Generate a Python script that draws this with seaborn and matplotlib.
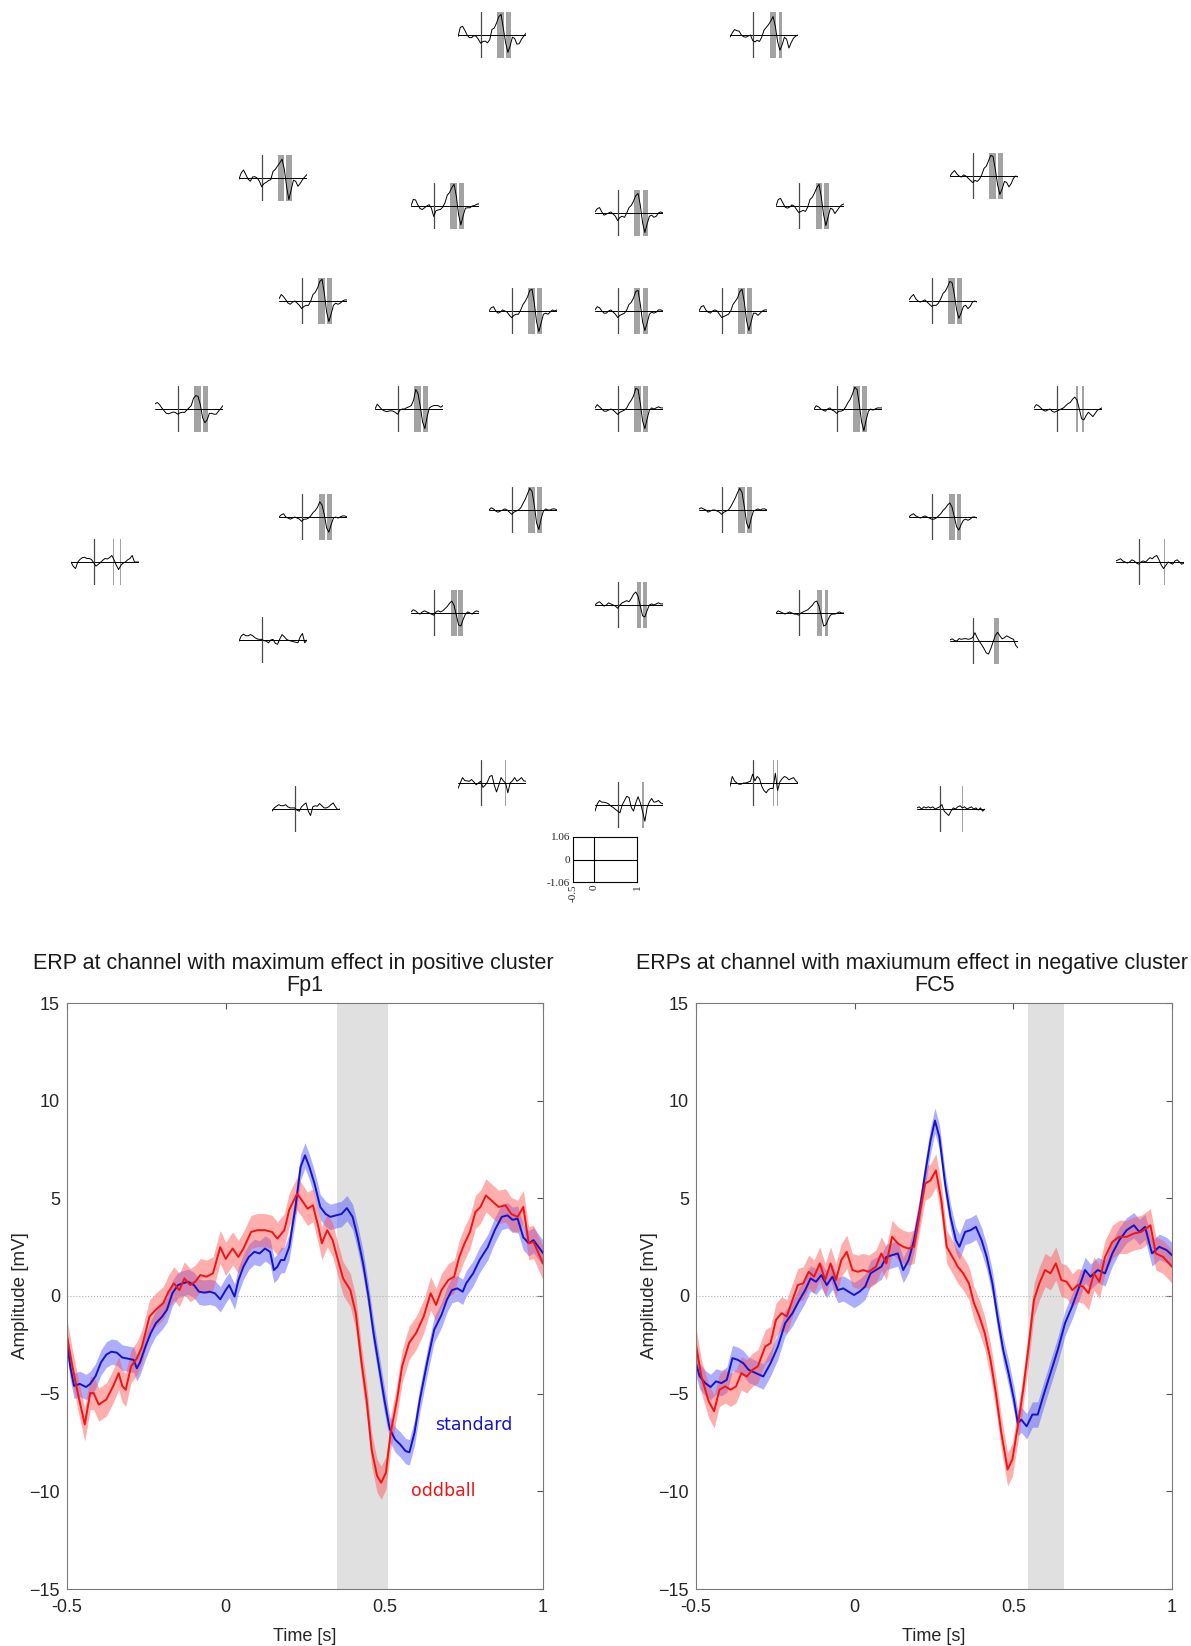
import matplotlib
matplotlib.use('Agg')
import matplotlib.pyplot as plt
import seaborn as sns
import numpy as np

FIG_W, FIG_H = 1191, 1646

# ---------------- big ERP panels ----------------
FP1_STD_T = [-0.5, -0.49, -0.478, -0.46, -0.44, -0.427, -0.41, -0.393, -0.376, -0.36, -0.343, -0.326, -0.31,
             -0.29, -0.28, -0.27, -0.253, -0.236, -0.22, -0.2, -0.185, -0.168, -0.15, -0.135, -0.118, -0.1,
             -0.084, -0.067, -0.05, -0.034, -0.017, 0.0, 0.011, 0.028, 0.04, 0.056, 0.073, 0.09, 0.107, 0.124,
             0.14, 0.152, 0.163, 0.174, 0.185, 0.2, 0.22, 0.236, 0.25, 0.264, 0.28, 0.298, 0.315, 0.33, 0.348,
             0.365, 0.382, 0.4, 0.416, 0.433, 0.45, 0.466, 0.483, 0.5, 0.517, 0.534, 0.55, 0.567, 0.579, 0.595,
             0.612, 0.635, 0.657, 0.68, 0.697, 0.713, 0.73, 0.747, 0.758, 0.78, 0.8, 0.826, 0.848, 0.87, 0.888,
             0.904, 0.92, 0.938, 0.955, 0.97, 1.0]
FP1_STD_V = [-2.33, -3.6, -4.6, -4.5, -4.66, -4.5, -4.1, -3.4, -3.0, -2.85, -2.9, -3.15, -3.2, -3.27, -3.7,
             -3.4, -2.6, -1.9, -1.4, -1.05, -0.7, 0.14, 0.56, 0.65, 0.73, 0.56, 0.22, 0.17, 0.22, 0.14, -0.17,
             0.3, 0.56, -0.03, 0.8, 1.5, 2.0, 2.26, 2.18, 2.43, 2.26, 1.33, 1.5, 1.84, 1.84, 2.5, 4.56, 6.6, 7.2,
             6.6, 5.75, 4.56, 4.2, 4.05, 4.13, 4.2, 4.5, 4.05, 3.0, 1.67, -0.03, -1.9, -3.6, -5.3, -6.8, -7.35,
             -7.6, -7.94, -8.0, -7.0, -5.3, -3.4, -1.73, -0.97, -0.2, 0.3, 0.39, 0.22, 0.65, 1.16, 1.84, 2.5,
             3.37, 4.05, 4.13, 3.9, 3.96, 3.0, 2.7, 2.86, 2.2]
FP1_ODD_T = [-0.5, -0.483, -0.466, -0.444, -0.427, -0.416, -0.4, -0.376, -0.354, -0.337, -0.326, -0.315,
             -0.298, -0.28, -0.264, -0.24, -0.22, -0.197, -0.18, -0.163, -0.146, -0.13, -0.112, -0.096, -0.08,
             -0.06, -0.04, -0.017, 0.0, 0.022, 0.04, 0.056, 0.08, 0.1, 0.124, 0.146, 0.163, 0.185, 0.2, 0.225,
             0.24, 0.258, 0.275, 0.292, 0.303, 0.32, 0.337, 0.354, 0.37, 0.393, 0.41, 0.427, 0.444, 0.46, 0.477,
             0.49, 0.505, 0.52, 0.54, 0.556, 0.578, 0.6, 0.624, 0.646, 0.663, 0.68, 0.702, 0.72, 0.736, 0.753,
             0.77, 0.787, 0.803, 0.82, 0.837, 0.86, 0.882, 0.9, 0.92, 0.938, 0.955, 0.97, 1.0]
FP1_ODD_V = [-2.07, -3.6, -4.97, -6.58, -4.97, -4.97, -5.56, -5.3, -4.6, -3.95, -4.6, -4.8, -3.6, -3.2, -2.6,
             -1.05, -0.7, -0.37, 0.22, 0.65, 0.3, 0.9, 0.56, 0.73, 1.07, 0.99, 1.16, 2.5, 1.9, 2.43, 2.0, 2.43,
             3.28, 3.37, 3.37, 3.28, 2.94, 3.37, 4.4, 5.24, 4.9, 4.47, 4.64, 3.54, 2.7, 3.37, 2.86, 1.84, 0.9,
             0.3, -0.88, -3.27, -5.3, -7.86, -9.2, -9.56, -9.05, -7.0, -5.3, -3.6, -2.4, -1.9, -1.05, 0.14,
             -0.46, 0.3, 0.82, 0.99, 2.0, 2.7, 3.28, 4.3, 4.56, 5.15, 4.9, 4.56, 4.64, 4.2, 4.05, 4.56, 2.7,
             2.77, 1.67]

FC5_STD_T = [-0.5, -0.489, -0.471, -0.454, -0.437, -0.42, -0.403, -0.385, -0.368, -0.351, -0.334, -0.311,
             -0.288, -0.265, -0.242, -0.219, -0.196, -0.174, -0.156, -0.139, -0.122, -0.105, -0.088, -0.07,
             -0.053, -0.036, -0.019, -0.002, 0.015, 0.033, 0.05, 0.067, 0.084, 0.1, 0.118, 0.136, 0.153, 0.17,
             0.187, 0.205, 0.222, 0.239, 0.253, 0.267, 0.285, 0.302, 0.319, 0.33, 0.348, 0.365, 0.382, 0.4,
             0.416, 0.434, 0.45, 0.468, 0.485, 0.502, 0.514, 0.525, 0.542, 0.56, 0.577, 0.594, 0.617, 0.64,
             0.663, 0.685, 0.708, 0.726, 0.743, 0.766, 0.789, 0.812, 0.834, 0.857, 0.88, 0.897, 0.915, 0.937,
             0.96, 0.983, 1.0]
FC5_STD_V = [-3.44, -4.1, -4.46, -4.66, -4.37, -4.46, -4.29, -3.18, -3.27, -3.44, -3.78, -3.95, -4.12, -3.44,
             -2.59, -1.39, -0.88, -0.2, 0.3, 0.9, 0.73, 1.07, 0.56, 0.99, 0.3, 0.39, 0.22, 0.05, 0.22, 0.48,
             1.16, 1.33, 1.5, 2.0, 2.09, 2.18, 1.33, 1.84, 2.86, 4.39, 6.26, 7.96, 8.98, 8.13, 5.75, 4.05, 2.86,
             2.52, 3.28, 3.37, 3.54, 2.86, 2.0, 0.65, -1.05, -2.76, -3.95, -5.3, -6.5, -6.33, -6.67, -6.07,
             -6.07, -5.14, -3.95, -2.76, -1.39, -0.54, 0.48, 1.33, 0.99, 1.33, 1.16, 2.18, 2.86, 3.37, 3.62,
             3.28, 3.54, 2.18, 2.52, 2.35, 2.09]
FC5_ODD_T = [-0.5, -0.483, -0.46, -0.443, -0.426, -0.408, -0.391, -0.374, -0.357, -0.34, -0.322, -0.305,
             -0.282, -0.265, -0.248, -0.23, -0.214, -0.196, -0.179, -0.162, -0.145, -0.128, -0.11, -0.093,
             -0.076, -0.059, -0.042, -0.025, -0.007, 0.01, 0.027, 0.044, 0.067, 0.084, 0.1, 0.118, 0.136, 0.153,
             0.17, 0.187, 0.205, 0.222, 0.239, 0.256, 0.273, 0.29, 0.308, 0.325, 0.342, 0.36, 0.376, 0.393,
             0.41, 0.428, 0.445, 0.462, 0.482, 0.497, 0.514, 0.531, 0.548, 0.565, 0.582, 0.6, 0.617, 0.634,
             0.651, 0.668, 0.686, 0.703, 0.72, 0.737, 0.754, 0.771, 0.789, 0.812, 0.834, 0.857, 0.88, 0.903,
             0.932, 0.949, 0.972, 1.0]
FC5_ODD_V = [-2.5, -4.12, -5.39, -5.9, -4.8, -4.63, -4.8, -4.63, -3.95, -4.12, -3.78, -3.6, -2.59, -2.41,
             -1.22, -0.88, -1.05, -0.2, 0.56, 0.65, 1.24, 0.99, 1.67, 0.82, 1.67, 0.82, 1.84, 2.26, 1.33, 1.24,
             1.33, 1.24, 1.5, 2.18, 1.67, 3.03, 2.69, 2.52, 2.43, 2.52, 4.22, 5.75, 5.92, 6.43, 4.9, 2.52, 2.0,
             1.5, 1.16, 0.65, -0.37, -1.05, -1.9, -3.27, -4.97, -7.0, -8.88, -8.37, -6.67, -4.8, -2.59, -0.2,
             0.65, 1.33, 1.16, 1.67, 0.82, 0.73, 0.3, 0.56, 0.48, 0.14, 1.16, 0.73, 2.0, 2.77, 3.03, 3.03, 3.2,
             3.28, 3.62, 2.18, 2.0, 1.5]

SEM_STD = 0.65
SEM_ODD = 0.85
POS_CLUSTER = (0.35, 0.51)
NEG_CLUSTER = (0.545, 0.66)

# ---------------- small channel traces (difference waves) ----------------
SMALL_T = [-0.5, -0.45, -0.4, -0.35, -0.3, -0.25, -0.2, -0.15, -0.1, -0.05, 0.0, 0.05, 0.1, 0.15, 0.2, 0.25,
           0.3, 0.35, 0.4, 0.45, 0.5, 0.55, 0.6, 0.65, 0.7, 0.75, 0.8, 0.85, 0.9, 0.95, 1.0]

FP1 = [-0.08, 0.35, 0.4, 0.22, 0.0, -0.12, -0.12, -0.03, -0.06, -0.2, -0.38, -0.3, -0.28, -0.36, -0.22, 0.26,
       0.32, 0.55, 0.85, 0.95, 0.3, -0.35, -0.8, -0.5, -0.1, -0.16, -0.42, -0.4, -0.2, -0.05, 0.08]
FP2 = [-0.1, 0.1, 0.25, 0.2, 0.18, 0.0, -0.08, -0.1, -0.05, 0.0, -0.25, -0.32, -0.24, -0.3, -0.1, 0.22, 0.35,
       0.48, 0.65, 0.85, 0.4, -0.3, -0.7, -0.45, -0.1, -0.2, -0.6, -0.35, -0.15, -0.05, 0.0]
F7 = [-0.05, 0.24, 0.37, 0.16, -0.05, -0.15, 0.05, 0.06, 0.0, -0.15, -0.4, -0.26, -0.2, -0.12, -0.08, 0.3, 0.4,
      0.55, 0.7, 0.87, 0.4, -0.4, -1.0, -0.55, -0.1, -0.15, -0.38, -0.25, -0.08, 0.05, 0.16]
F3 = [0.0, 0.3, 0.28, 0.05, -0.12, -0.16, -0.08, 0.0, 0.06, -0.1, -0.48, -0.22, -0.18, -0.16, -0.05, 0.15, 0.5,
      0.62, 0.85, 1.0, 0.45, -0.4, -0.87, -0.45, -0.1, -0.08, -0.08, 0.0, 0.02, 0.08, 0.1]
FZ = [0.05, 0.2, 0.25, 0.05, -0.1, -0.05, 0.0, 0.05, -0.05, -0.15, -0.35, -0.2, -0.15, -0.2, 0.0, 0.25, 0.35,
      0.55, 0.8, 0.9, 0.35, -0.45, -0.9, -0.5, -0.15, -0.1, -0.2, -0.15, 0.0, 0.05, 0.0]
F4 = [0.0, 0.3, 0.35, 0.15, -0.05, -0.1, -0.05, 0.05, 0.0, -0.15, -0.3, -0.25, -0.2, -0.25, -0.05, 0.3, 0.4,
      0.6, 0.85, 1.0, 0.4, -0.4, -0.9, -0.5, -0.1, -0.15, -0.35, -0.2, -0.05, 0.05, 0.1]
F8 = [0.0, 0.15, 0.25, 0.1, 0.0, -0.05, 0.05, 0.0, -0.1, -0.2, -0.3, -0.2, -0.25, -0.15, 0.05, 0.35, 0.45, 0.7,
      0.95, 0.9, 0.3, -0.4, -0.85, -0.6, -0.25, -0.3, -0.5, -0.35, -0.1, 0.0, -0.05]
FC5 = [0.1, 0.3, 0.2, 0.05, -0.1, -0.15, -0.05, 0.0, -0.1, -0.2, -0.35, -0.25, -0.2, -0.2, 0.0, 0.3, 0.4, 0.6,
       0.9, 1.0, 0.35, -0.5, -0.95, -0.6, -0.2, -0.1, -0.15, -0.1, 0.0, 0.05, 0.05]
FC1 = [0.0, 0.15, 0.2, 0.0, -0.1, -0.05, 0.05, 0.0, -0.05, -0.2, -0.3, -0.2, -0.15, -0.15, 0.05, 0.3, 0.45,
       0.65, 0.95, 1.0, 0.35, -0.5, -0.95, -0.55, -0.15, -0.1, -0.15, -0.05, 0.05, 0.0, 0.05]
FCZ = [0.05, 0.2, 0.15, 0.0, -0.1, -0.1, 0.0, 0.05, -0.05, -0.15, -0.3, -0.2, -0.15, -0.1, 0.05, 0.3, 0.4, 0.6,
       0.9, 0.95, 0.3, -0.5, -0.9, -0.55, -0.15, -0.05, -0.1, -0.05, 0.05, 0.05, 0.0]
FC2 = [0.0, 0.2, 0.25, 0.05, -0.05, -0.1, 0.0, 0.05, 0.0, -0.15, -0.3, -0.25, -0.2, -0.15, 0.0, 0.3, 0.45, 0.6,
       0.9, 1.0, 0.4, -0.45, -0.9, -0.5, -0.1, -0.1, -0.2, -0.1, 0.0, 0.05, 0.05]
FC6 = [0.05, 0.2, 0.3, 0.1, 0.0, -0.05, 0.0, 0.05, -0.05, -0.15, -0.25, -0.2, -0.2, -0.1, 0.1, 0.35, 0.45, 0.65,
       0.9, 0.85, 0.3, -0.4, -0.8, -0.55, -0.25, -0.2, -0.35, -0.25, -0.05, 0.0, -0.05]
T7 = [0.24, 0.3, 0.2, 0.05, -0.08, -0.2, -0.22, -0.18, -0.14, -0.16, -0.24, -0.18, -0.15, -0.16, -0.05, 0.05,
      0.16, 0.5, 0.62, 0.58, 0.2, -0.4, -0.63, -0.5, -0.2, -0.2, -0.24, -0.24, -0.1, 0.02, 0.16]
C3 = [0.0, 0.22, 0.1, -0.02, -0.08, -0.12, -0.1, -0.08, -0.1, -0.16, -0.24, -0.05, 0.0, 0.0, 0.06, 0.1, 0.16,
      0.4, 0.9, 0.7, 0.1, -0.6, -0.9, -0.35, 0.05, 0.12, 0.16, 0.16, 0.15, 0.08, 0.16]
CZ = [0.05, 0.2, 0.1, 0.0, -0.1, -0.1, -0.05, 0.0, -0.05, -0.15, -0.25, -0.15, -0.1, -0.05, 0.05, 0.25, 0.4, 0.6,
      0.95, 0.9, 0.25, -0.55, -0.9, -0.45, -0.05, 0.05, 0.0, 0.05, 0.1, 0.05, 0.05]
C4 = [0.0, 0.15, 0.1, 0.0, -0.05, -0.1, 0.0, 0.05, -0.05, -0.1, -0.2, -0.1, -0.1, -0.05, 0.1, 0.3, 0.45, 0.7,
      1.0, 0.9, 0.2, -0.6, -1.0, -0.5, -0.1, 0.0, -0.05, 0.0, 0.05, 0.05, 0.05]
T8 = [0.05, 0.2, 0.15, 0.05, -0.05, -0.1, -0.05, 0.0, -0.1, -0.15, -0.1, -0.05, 0.0, 0.05, 0.15, 0.25, 0.3,
      0.45, 0.55, 0.4, 0.0, -0.45, -0.5, -0.3, -0.15, -0.25, -0.35, -0.2, -0.05, 0.0, 0.05]
CP5 = [0.0, 0.1, 0.15, 0.0, -0.05, -0.1, -0.05, 0.0, -0.05, -0.1, -0.2, -0.1, -0.1, -0.05, 0.05, 0.2, 0.3, 0.45,
       0.7, 0.55, 0.1, -0.5, -0.7, -0.35, -0.05, 0.0, -0.05, 0.0, 0.05, 0.05, 0.0]
CP1 = [0.0, 0.1, 0.05, -0.05, -0.1, -0.05, 0.0, 0.05, 0.0, -0.1, -0.2, -0.1, -0.05, 0.0, 0.1, 0.3, 0.5, 0.75,
       1.0, 0.85, 0.2, -0.6, -0.9, -0.4, -0.05, 0.05, 0.0, 0.0, 0.05, 0.05, 0.0]
CP2 = [0.05, 0.1, 0.05, 0.0, -0.1, -0.05, 0.0, 0.0, -0.05, -0.1, -0.2, -0.1, -0.05, 0.0, 0.15, 0.35, 0.55, 0.8,
       1.0, 0.8, 0.15, -0.6, -0.85, -0.4, -0.05, 0.0, 0.05, 0.0, 0.05, 0.05, 0.0]
CP6 = [0.0, 0.1, 0.15, 0.05, 0.0, -0.05, 0.0, 0.05, 0.0, -0.05, -0.1, -0.1, -0.05, 0.05, 0.15, 0.3, 0.4, 0.55,
       0.65, 0.45, 0.0, -0.45, -0.6, -0.35, -0.15, -0.1, -0.15, -0.1, 0.0, 0.0, -0.05]
TP9 = [0.0, -0.2, -0.3, 0.0, 0.12, 0.2, 0.22, 0.16, 0.16, 0.12, -0.03, -0.19, -0.11, -0.02, 0.08, 0.16, 0.14,
       0.2, 0.3, 0.1, -0.15, -0.35, -0.15, -0.05, 0.0, 0.1, 0.16, 0.3, 0.0, 0.0, 0.0]
TP10 = [0.05, 0.1, 0.15, 0.05, 0.0, -0.05, 0.0, 0.1, 0.05, -0.05, -0.1, 0.0, 0.05, 0.0, 0.1, 0.2, 0.15, 0.25,
        0.3, 0.1, -0.15, -0.3, -0.15, 0.0, -0.05, -0.1, 0.05, 0.1, 0.0, -0.1, -0.05]
P7 = [-0.05, 0.19, 0.27, 0.2, 0.19, 0.25, 0.2, 0.11, 0.05, 0.03, 0.03, -0.03, -0.05, -0.13, 0.0, 0.03, -0.15,
      -0.2, 0.05, 0.25, 0.15, 0.03, -0.02, -0.05, -0.08, -0.1, -0.13, 0.15, 0.3, -0.13, 0.0]
P3 = [0.05, 0.15, 0.1, 0.0, -0.05, 0.05, 0.1, 0.05, 0.0, -0.05, -0.1, 0.05, 0.1, 0.05, 0.1, 0.2, 0.3, 0.45,
      0.55, 0.35, -0.1, -0.55, -0.6, -0.3, -0.05, 0.05, 0.0, -0.05, 0.05, 0.1, 0.05]
PZ = [0.0, 0.1, 0.15, 0.05, -0.05, 0.0, 0.1, 0.05, 0.0, -0.05, -0.15, 0.0, 0.1, 0.15, 0.2, 0.15, 0.3, 0.5, 0.6,
      0.4, -0.05, -0.5, -0.55, -0.25, 0.0, 0.05, 0.0, 0.05, 0.1, 0.05, 0.05]
P4 = [0.0, 0.1, 0.05, 0.0, -0.05, 0.0, 0.05, 0.0, -0.05, -0.05, -0.1, 0.0, 0.05, 0.1, 0.15, 0.25, 0.35, 0.5,
      0.55, 0.3, -0.15, -0.6, -0.55, -0.3, -0.1, -0.05, -0.05, 0.0, 0.05, 0.0, 0.0]
P8 = [0.05, 0.1, 0.02, 0.0, 0.11, 0.08, 0.1, 0.11, 0.08, 0.1, 0.16, 0.38, 0.15, -0.02, -0.18, -0.35, -0.55,
      -0.6, -0.35, -0.05, 0.25, 0.4, 0.24, 0.1, 0.15, 0.24, 0.18, 0.12, 0.08, -0.2, -0.32]
PO9 = [-0.1, 0.05, 0.13, 0.2, 0.15, 0.15, 0.2, 0.1, 0.05, 0.05, 0.05, -0.05, -0.1, 0.1, 0.2, 0.28, -0.1, -0.3,
       0.1, 0.15, 0.13, 0.25, 0.15, 0.05, 0.05, 0.1, 0.2, 0.28, 0.1, -0.03, 0.0]
O1 = [-0.25, 0.0, 0.25, 0.11, 0.1, 0.08, 0.16, 0.05, -0.08, 0.0, 0.08, -0.2, -0.1, 0.05, 0.3, 0.35, -0.1, -0.41,
      -0.1, 0.25, 0.1, 0.0, -0.45, 0.0, 0.1, 0.25, 0.08, 0.15, 0.25, 0.1, 0.08]
OZ = [-0.28, 0.05, 0.21, 0.13, 0.13, 0.1, 0.05, -0.05, -0.11, -0.2, -0.28, -0.36, 0.0, 0.2, 0.4, 0.35, -0.11,
      -0.28, 0.1, 0.38, 0.1, -0.3, -0.75, -0.11, 0.15, 0.3, 0.13, 0.15, 0.21, 0.1, 0.05]
O2 = [-0.16, 0.3, 0.1, 0.0, -0.06, -0.05, 0.0, 0.0, 0.04, 0.08, 0.41, 0.1, 0.3, 0.2, -0.15, -0.35, -0.45, -0.3,
      -0.25, -0.25, 0.45, -0.35, 0.05, 0.2, 0.3, 0.25, 0.15, 0.2, 0.25, 0.1, 0.0]
PO10 = [0.05, 0.1, 0.0, 0.1, 0.05, 0.1, 0.05, 0.1, 0.0, 0.05, 0.1, 0.2, -0.1, -0.2, -0.3, -0.1, 0.05, 0.0, 0.1,
        0.15, 0.05, 0.1, 0.0, 0.05, 0.1, 0.0, 0.05, -0.05, 0.05, -0.1, 0.0]

# time windows in which each channel belongs to a cluster
CLUSTER_BANDS = [
    [(0.35, 0.51), (0.55, 0.66)], [(0.38, 0.51), (0.57, 0.65)],
    [(0.35, 0.5), (0.54, 0.66)], [(0.36, 0.51), (0.56, 0.66)], [(0.35, 0.5), (0.55, 0.66)],
    [(0.38, 0.51), (0.56, 0.67)], [(0.35, 0.51), (0.56, 0.66)],
    [(0.35, 0.51), (0.55, 0.66)], [(0.37, 0.51), (0.56, 0.66)], [(0.35, 0.5), (0.55, 0.66)],
    [(0.37, 0.51), (0.56, 0.66)], [(0.37, 0.51), (0.56, 0.66)],
    [(0.35, 0.51), (0.56, 0.66)], [(0.35, 0.51), (0.55, 0.66)], [(0.35, 0.51), (0.55, 0.66)],
    [(0.35, 0.51), (0.55, 0.66)], [(0.42, 0.47), (0.56, 0.6)],
    [(0.38, 0.51), (0.55, 0.66)], [(0.37, 0.51), (0.55, 0.66)], [(0.37, 0.51), (0.56, 0.66)],
    [(0.38, 0.51), (0.56, 0.64)],
    [(0.42, 0.44), (0.58, 0.6)], [(0.55, 0.57)],
    [], [(0.39, 0.51), (0.53, 0.64)], [(0.42, 0.51), (0.55, 0.64)], [(0.4, 0.51), (0.57, 0.64)],
    [(0.47, 0.59)],
    [], [(0.53, 0.56)], [(0.54, 0.59)], [(0.45, 0.47), (0.53, 0.55)], [(0.49, 0.52)],
]
TRACES = [FP1, FP2, F7, F3, FZ, F4, F8, FC5, FC1, FCZ, FC2, FC6, T7, C3, CZ, C4, T8, CP5, CP1, CP2, CP6,
          TP9, TP10, P7, P3, PZ, P4, P8, PO9, O1, OZ, O2, PO10]

# layout: left edge and zero line of every small plot, in pixels
LAYOUT_X = [458, 730, 239, 411, 595, 776, 950, 279, 489, 595, 699, 909, 155, 375, 595, 814, 1034, 279, 489, 699,
            909, 71, 1116, 239, 411, 595, 776, 950, 272, 458, 595, 730, 917]
LAYOUT_Y = [35, 35, 178, 206, 213, 206, 176, 301, 311, 311, 311, 301, 409, 409, 409, 409, 409, 517, 510, 510,
            517, 562, 562, 640, 613, 605, 613, 641, 809, 783, 805, 783, 809]
BOX_W, BOX_H = 68, 46

sns.set_style('white')
plt.rcParams['font.family'] = ['Liberation Sans', 'DejaVu Sans']

fig = plt.figure(figsize=(FIG_W / 100, FIG_H / 100), dpi=100)


def px_rect(left, top, w, h):
    return [left / FIG_W, 1 - (top + h) / FIG_H, w / FIG_W, h / FIG_H]


def small_erp(left, zero_y, trace, bands):
    ax = fig.add_axes(px_rect(left, zero_y - BOX_H / 2, BOX_W, BOX_H))
    for t0, t1 in bands:
        ax.axvspan(t0, t1, color='#a3a3a3', lw=0)
    ax.axhline(0, color='k', lw=0.7)
    ax.axvline(0, color='#4a4a4a', lw=0.9)
    sns.lineplot(x=SMALL_T, y=trace, ax=ax, color='k', lw=0.7)
    ax.set_xlim(-0.5, 1.0)
    ax.set_ylim(-1.06, 1.06)
    ax.axis('off')


for left, zy, tr, bd in zip(LAYOUT_X, LAYOUT_Y, TRACES, CLUSTER_BANDS):
    small_erp(left, zy, tr, bd)

# scale box
lg = fig.add_axes(px_rect(573, 837, 64, 45))
lg.axhline(0, color='k', lw=0.8)
lg.axvline(0, color='k', lw=0.8)
lg.set_xlim(-0.5, 1.0)
lg.set_ylim(-1.06, 1.06)
lg.set_xticks([-0.5, 0, 1])
lg.set_xticklabels(['-0.5', '0', '1'], rotation=90, family='Liberation Serif', fontsize=8)
lg.set_yticks([-1.06, 0, 1.06])
lg.set_yticklabels(['-1.06', '0', '1.06'], family='Liberation Serif', fontsize=8)
lg.tick_params(length=0, pad=2)
for s in lg.spines.values():
    s.set_color('k')
    s.set_linewidth(0.8)


def big_erp(left, title, ch, t_std, v_std, t_odd, v_odd, cluster, title_x, labels):
    ax = fig.add_axes(px_rect(left, 1003, 476, 586))
    t_std, v_std = np.array(t_std), np.array(v_std)
    t_odd, v_odd = np.array(t_odd), np.array(v_odd)
    ax.axvspan(*cluster, color='#e0e0e0', lw=0)
    ax.axhline(0, color='#b0b0b0', lw=0.8, ls=':')
    ax.fill_between(t_std, v_std - SEM_STD, v_std + SEM_STD, color=(0.3, 0.3, 1.0), alpha=0.45, lw=0)
    ax.fill_between(t_odd, v_odd - SEM_ODD, v_odd + SEM_ODD, color=(1.0, 0.3, 0.3), alpha=0.45, lw=0)
    sns.lineplot(x=t_std, y=v_std, ax=ax, color='#1414c8', lw=1.4)
    sns.lineplot(x=t_odd, y=v_odd, ax=ax, color='#f01414', lw=1.4)
    ax.set_xlim(-0.5, 1.0)
    ax.set_ylim(-15, 15)
    ax.set_xticks([-0.5, 0, 0.5, 1])
    ax.set_xticklabels(['-0.5', '0', '0.5', '1'])
    ax.set_yticks([-15, -10, -5, 0, 5, 10, 15])
    ax.tick_params(direction='in', top=True, right=True, length=4, width=0.8, color='#555555',
                   labelsize=13, labelcolor='#262626')
    ax.tick_params(axis='x', pad=7)
    ax.tick_params(axis='y', pad=5)
    for s in ax.spines.values():
        s.set_color('#7a7a7a')
        s.set_linewidth(0.8)
    ax.set_xlabel('Time [s]', fontsize=13, color='#262626', labelpad=9)
    ax.set_ylabel('Amplitude [mV]', fontsize=13.5, color='#262626', labelpad=0)
    fig.text(title_x / FIG_W, 1 - 963 / FIG_H, title, ha='center', va='center', fontsize=15.5, color='#1a1a1a')
    fig.text((left + 238) / FIG_W, 1 - 986 / FIG_H, ch, ha='center', va='center', fontsize=15.5, color='#1a1a1a')
    if labels:
        ax.text(0.66, -6.6, 'standard', color='#1414c8', fontsize=12.5, family='DejaVu Sans', va='center')
        ax.text(0.585, -10.0, 'oddball', color='#f01414', fontsize=12.5, family='DejaVu Sans', va='center')
    return ax


big_erp(67, 'ERP at channel with maximum effect in positive cluster', 'Fp1',
        FP1_STD_T, FP1_STD_V, FP1_ODD_T, FP1_ODD_V, POS_CLUSTER, 293, True)
big_erp(696, 'ERPs at channel with maxiumum effect in negative cluster', 'FC5',
        FC5_STD_T, FC5_STD_V, FC5_ODD_T, FC5_ODD_V, NEG_CLUSTER, 912, False)

fig.savefig('out.png', dpi=100, facecolor='white')
